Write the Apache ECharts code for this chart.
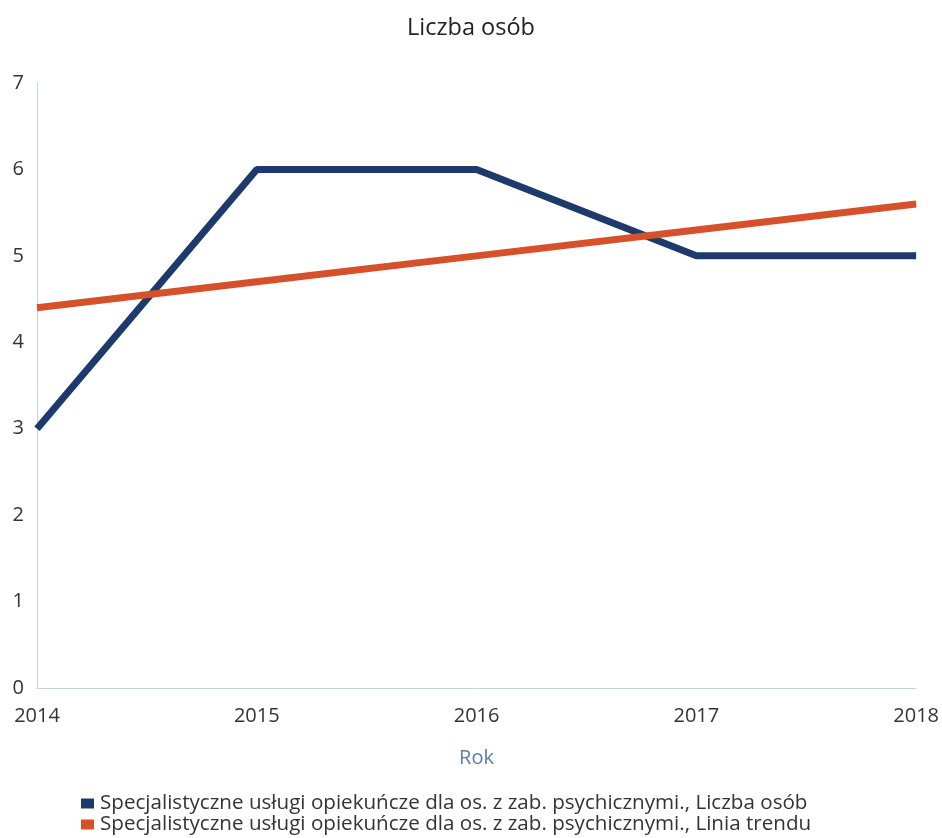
<!DOCTYPE html>
<html><head><meta charset="utf-8">
<script src="https://cdn.jsdelivr.net/npm/echarts@6/dist/echarts.min.js"></script>
<style>html,body{margin:0;padding:0;background:#fff}#c{width:942px;height:838px}</style>
</head><body><div id="c"></div>
<script>
const categories = ['2014','2015','2016','2017','2018'];
const seriesNames = ['Specjalistyczne usługi opiekuńcze dla os. z zab. psychicznymi., Liczba osób','Specjalistyczne usługi opiekuńcze dla os. z zab. psychicznymi., Linia trendu'];
const countValues = [3, 6, 6, 5, 5];
const trendValues = [4.4, 4.7, 5.0, 5.3, 5.6];
const yTicks = [0,1,2,3,4,5,6,7];
const chart = echarts.init(document.getElementById('c'));
const font = 'Open Sans';
const legendBase = {orient:'horizontal',left:76,itemWidth:13,itemHeight:10,icon:'rect',
    textStyle:{fontFamily:font,fontSize:20.6,color:'#333',padding:[0,0,0,1]}};
chart.setOption({
  animation:false,
  title:{text:'Liczba osób',left:'center',top:11,textStyle:{fontFamily:font,fontSize:23.5,fontWeight:'normal',color:'#222'}},
  grid:{left:37,right:24,top:83,bottom:150,containLabel:false},
  legend:[
    Object.assign({},legendBase,{top:788,data:[seriesNames[0]]}),
    Object.assign({},legendBase,{top:809,data:[seriesNames[1]]})
  ],
  xAxis:{type:'category',data:categories,boundaryGap:false,name:'Rok',nameLocation:'middle',nameGap:60,
    nameTextStyle:{fontFamily:font,fontSize:20,color:'#5b7fa6'},
    axisLine:{lineStyle:{color:'#c5d3e2',width:1}},axisTick:{show:false},
    axisLabel:{fontFamily:font,fontSize:20,color:'#333',margin:18}},
  yAxis:{type:'value',min:0,max:7,interval:1,
    axisLine:{show:true,lineStyle:{color:'#c5d3e2',width:1}},axisTick:{show:false},splitLine:{show:false},
    axisLabel:{fontFamily:font,fontSize:20,color:'#333',margin:13}},
  series:[
    {name:seriesNames[0],type:'line',data:countValues,symbol:'none',lineStyle:{width:7,color:'#1c3a6b'},itemStyle:{color:'#1c3a6b'}},
    {name:seriesNames[1],type:'line',data:trendValues,symbol:'none',lineStyle:{width:7,color:'#d6512b'},itemStyle:{color:'#d6512b'}}
  ]
});
</script></body></html>
